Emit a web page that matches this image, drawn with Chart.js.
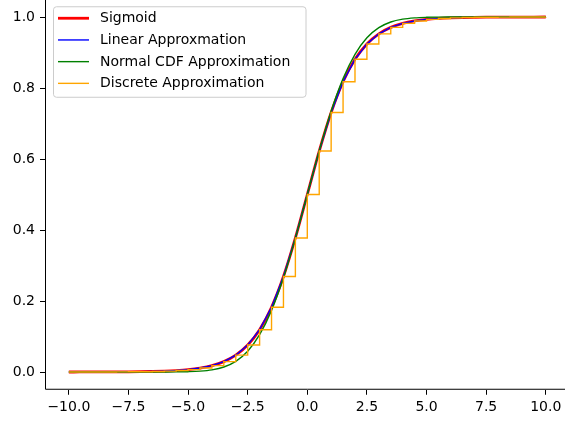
<!DOCTYPE html>
<html>
<head>
<meta charset="utf-8">
<script src="https://cdn.jsdelivr.net/npm/chart.js@4.4.0/dist/chart.umd.min.js"></script>
<style>
  html, body { margin: 0; padding: 0; overflow: hidden; background: #fff; width: 565px; height: 421px; }
  #c { position: absolute; left: 0; top: -1px; }
</style>
</head>
<body>
<canvas id="c" width="575" height="422"></canvas>
<script>
// ---- data ----
const xValues = [-10,-9.5,-9,-8.5,-8,-7.5,-7,-6.5,-6,-5.5,-5,-4.5,-4,-3.5,-3,-2.5,-2,-1.5,-1,-0.5,
                 0,0.5,1,1.5,2,2.5,3,3.5,4,4.5,5,5.5,6,6.5,7,7.5,8,8.5,9,9.5,10];

const sigmoidValues = [0.000045,0.000075,0.000123,0.000203,0.000335,0.000553,0.000911,0.001501,0.002473,0.004070,
  0.006693,0.011109,0.017986,0.029312,0.047426,0.075858,0.119203,0.182426,0.268941,0.377541,
  0.5,
  0.622459,0.731059,0.817574,0.880797,0.924142,0.952574,0.970688,0.982014,0.988891,0.993307,
  0.995930,0.997527,0.998499,0.999089,0.999447,0.999665,0.999797,0.999877,0.999925,0.999955];

const linearValues = [0.000045,0.000075,0.000123,0.000203,0.000335,0.000553,0.000911,0.001501,0.002473,0.004070,
  0.006693,0.011109,0.017986,0.029312,0.047426,0.075858,0.119203,0.182426,0.268941,0.377541,
  0.5,
  0.622459,0.731059,0.817574,0.880797,0.924142,0.952574,0.970688,0.982014,0.988891,0.993307,
  0.995930,0.997527,0.998499,0.999089,0.999447,0.999665,0.999797,0.999877,0.999925,0.999955];

const normalCdfValues = [0,0,0,0,0,0,0,0.00002,0.00008,0.00028,
  0.00086,0.0024,0.0061,0.01414,0.0301,0.0586,0.1050,0.1736,0.2654,0.3770,
  0.5,
  0.6230,0.7346,0.8264,0.8950,0.9414,0.9699,0.98586,0.9939,0.9976,0.99914,
  0.99972,0.99992,0.99998,1,1,1,1,1,1,1];

const discreteValues = [0.000045,0.000075,0.000123,0.000203,0.000335,0.000553,0.000911,0.001501,0.002473,0.004070,
  0.006693,0.011109,0.017986,0.029312,0.047426,0.075858,0.119203,0.182426,0.268941,0.377541,
  0.5,
  0.622459,0.731059,0.817574,0.880797,0.924142,0.952574,0.970688,0.982014,0.988891,0.993307,
  0.995930,0.997527,0.998499,0.999089,0.999447,0.999665,0.999797,0.999877,0.999925,0.999955];

const xTicks = [-10,-7.5,-5,-2.5,0,2.5,5,7.5,10];
const yTicks = [0,0.2,0.4,0.6,0.8,1.0];

const seriesLabels = ['Sigmoid','Linear Approxmation','Normal CDF Approximation','Discrete Approximation'];
const seriesColors = ['#ff0000','#0000ff','#008000','#ffa500'];

// ---- build ----
const toPts = (ys) => xValues.map((x, i) => ({x: x, y: ys[i]}));
const FONT = 'DejaVu Sans';

const fmt = (v) => v.toFixed(1).replace('-', '\u2212');

const framePlugin = {
  id: 'frame',
  afterDatasetsDraw(chart) {
    const {ctx, chartArea: a} = chart;
    ctx.save();
    ctx.strokeStyle = '#000';
    ctx.lineWidth = 1;
    ctx.beginPath();
    ctx.moveTo(a.right, a.top);
    ctx.lineTo(a.left + 0.5, a.top);
    ctx.lineTo(a.left + 0.5, a.bottom - 0.5);
    ctx.lineTo(a.right, a.bottom - 0.5);
    ctx.stroke();
    ctx.restore();
  },
  afterDraw(chart) {
    const {ctx, chartArea: a} = chart;
    const lx = a.left + 8.5, ly = a.top + 7.5, w = 252.5, h = 90.5, r = 3;
    ctx.save();
    ctx.beginPath();
    ctx.moveTo(lx + r, ly);
    ctx.lineTo(lx + w - r, ly);
    ctx.arcTo(lx + w, ly, lx + w, ly + r, r);
    ctx.lineTo(lx + w, ly + h - r);
    ctx.arcTo(lx + w, ly + h, lx + w - r, ly + h, r);
    ctx.lineTo(lx + r, ly + h);
    ctx.arcTo(lx, ly + h, lx, ly + h - r, r);
    ctx.lineTo(lx, ly + r);
    ctx.arcTo(lx, ly, lx + r, ly, r);
    ctx.closePath();
    ctx.fillStyle = 'rgba(255,255,255,0.8)';
    ctx.fill();
    ctx.strokeStyle = '#cccccc';
    ctx.lineWidth = 1;
    ctx.stroke();
    const widths = [2.8, 1.4, 1.4, 1.4];
    ctx.font = '14px "' + FONT + '"';
    ctx.textBaseline = 'middle';
    ctx.textAlign = 'left';
    for (let i = 0; i < seriesLabels.length; i++) {
      const cy = ly + 11.5 + i * 21.7;
      ctx.beginPath();
      ctx.strokeStyle = seriesColors[i];
      ctx.lineWidth = widths[i];
      ctx.moveTo(lx + 4.5, cy);
      ctx.lineTo(lx + 35.5, cy);
      ctx.stroke();
      ctx.fillStyle = '#000';
      ctx.fillText(seriesLabels[i], lx + 46.5, cy + 0.5);
    }
    ctx.restore();
  }
};

new Chart(document.getElementById('c'), {
  type: 'line',
  data: {
    datasets: [
      {label: seriesLabels[0], data: toPts(sigmoidValues), borderColor: seriesColors[0], borderWidth: 2.8,
       pointRadius: 0, cubicInterpolationMode: 'monotone', fill: false, order: 4},
      {label: seriesLabels[1], data: toPts(linearValues), borderColor: seriesColors[1], borderWidth: 1.4,
       pointRadius: 0, tension: 0, fill: false, order: 3},
      {label: seriesLabels[2], data: toPts(normalCdfValues), borderColor: seriesColors[2], borderWidth: 1.4,
       pointRadius: 0, cubicInterpolationMode: 'monotone', fill: false, order: 2},
      {label: seriesLabels[3], data: toPts(discreteValues), borderColor: seriesColors[3], borderWidth: 1.4,
       pointRadius: 0, stepped: 'before', fill: false, order: 1}
    ]
  },
  options: {
    responsive: false,
    animation: false,
    devicePixelRatio: 1,
    layout: {padding: {left: 0, right: 5.4, top: 0.25, bottom: 0}},
    plugins: {legend: {display: false}, tooltip: {enabled: false}},
    scales: {
      x: {
        type: 'linear', min: -11, max: 11,
        afterBuildTicks: (s) => { s.ticks = xTicks.map(v => ({value: v})); },
        afterFit: (s) => { s.height = 31.25; s.paddingLeft = 0; s.paddingRight = 0; s.paddingTop = 0; s.paddingBottom = 0; },
        grid: {display: true, drawOnChartArea: false, drawTicks: true, tickLength: 5, color: '#000', lineWidth: 1},
        border: {display: false},
        ticks: {autoSkip: false, maxRotation: 0, padding: 4, color: '#000',
                font: {family: FONT, size: 14}, callback: (v) => fmt(v)}
      },
      y: {
        type: 'linear', min: -0.05, max: 1.05,
        afterBuildTicks: (s) => { s.ticks = yTicks.map(v => ({value: v})); },
        afterFit: (s) => { s.width = 45; s.paddingLeft = 0; s.paddingRight = 0; s.paddingTop = 0; s.paddingBottom = 0; },
        grid: {display: true, drawOnChartArea: false, drawTicks: true, tickLength: 5, color: '#000', lineWidth: 1},
        border: {display: false},
        ticks: {autoSkip: false, padding: 5, color: '#000',
                font: {family: FONT, size: 14}, callback: (v) => fmt(v)}
      }
    }
  },
  plugins: [framePlugin]
});
</script>
</body>
</html>
